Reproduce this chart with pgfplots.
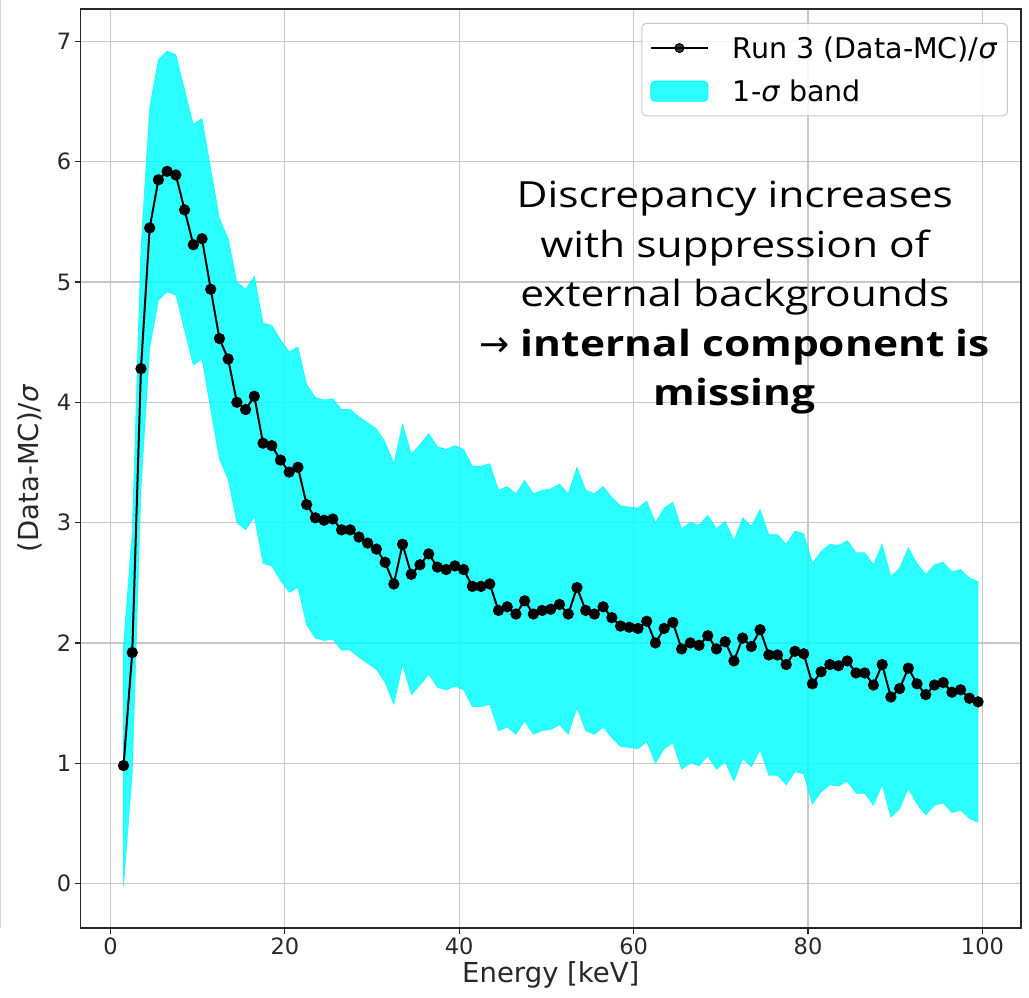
\documentclass[border=0pt]{standalone}
\usepackage{fontspec}
\setmainfont{DejaVu Sans}
\newfontfamily\annot[FakeStretch=1.18]{Open Sans}
\newfontfamily\arrowfont{DejaVu Sans}
\usepackage{pgfplots}
\pgfplotsset{compat=1.18}
\usepgfplotslibrary{fillbetween}
\usepackage{pgfplotstable}

\definecolor{gridc}{RGB}{200,200,200}
\definecolor{spine}{RGB}{40,40,40}
\definecolor{aqua}{RGB}{0,255,255}

\pgfplotstableread{
x y lo hi
1.5 0.98 -0.02 1.98
2.5 1.92 0.92 2.92
3.5 4.28 3.28 5.28
4.5 5.45 4.45 6.45
5.5 5.85 4.85 6.85
6.5 5.92 4.92 6.92
7.5 5.89 4.89 6.89
8.5 5.60 4.60 6.60
9.5 5.31 4.31 6.31
10.5 5.36 4.36 6.36
11.5 4.94 3.94 5.94
12.5 4.53 3.53 5.53
13.5 4.36 3.36 5.36
14.5 4.00 3.00 5.00
15.5 3.94 2.94 4.94
16.5 4.05 3.05 5.05
17.5 3.66 2.66 4.66
18.5 3.64 2.64 4.64
19.5 3.52 2.52 4.52
20.5 3.42 2.42 4.42
21.5 3.46 2.46 4.46
22.5 3.15 2.15 4.15
23.5 3.04 2.04 4.04
24.5 3.02 2.02 4.02
25.5 3.03 2.03 4.03
26.5 2.94 1.94 3.94
27.5 2.94 1.94 3.94
28.5 2.88 1.88 3.88
29.5 2.83 1.83 3.83
30.5 2.78 1.78 3.78
31.5 2.67 1.67 3.67
32.5 2.49 1.49 3.49
33.5 2.82 1.82 3.82
34.5 2.57 1.57 3.57
35.5 2.65 1.65 3.65
36.5 2.74 1.74 3.74
37.5 2.63 1.63 3.63
38.5 2.61 1.61 3.61
39.5 2.64 1.64 3.64
40.5 2.61 1.61 3.61
41.5 2.47 1.47 3.47
42.5 2.47 1.47 3.47
43.5 2.49 1.49 3.49
44.5 2.27 1.27 3.27
45.5 2.30 1.30 3.30
46.5 2.24 1.24 3.24
47.5 2.35 1.35 3.35
48.5 2.24 1.24 3.24
49.5 2.27 1.27 3.27
50.5 2.28 1.28 3.28
51.5 2.32 1.32 3.32
52.5 2.24 1.24 3.24
53.5 2.46 1.46 3.46
54.5 2.27 1.27 3.27
55.5 2.24 1.24 3.24
56.5 2.30 1.30 3.30
57.5 2.21 1.21 3.21
58.5 2.14 1.14 3.14
59.5 2.13 1.13 3.13
60.5 2.12 1.12 3.12
61.5 2.18 1.18 3.18
62.5 2.00 1.00 3.00
63.5 2.12 1.12 3.12
64.5 2.17 1.17 3.17
65.5 1.95 0.95 2.95
66.5 2.00 1.00 3.00
67.5 1.98 0.98 2.98
68.5 2.06 1.06 3.06
69.5 1.95 0.95 2.95
70.5 2.01 1.01 3.01
71.5 1.85 0.85 2.85
72.5 2.04 1.04 3.04
73.5 1.97 0.97 2.97
74.5 2.11 1.11 3.11
75.5 1.90 0.90 2.90
76.5 1.90 0.90 2.90
77.5 1.82 0.82 2.82
78.5 1.93 0.93 2.93
79.5 1.91 0.91 2.91
80.5 1.66 0.66 2.66
81.5 1.76 0.76 2.76
82.5 1.82 0.82 2.82
83.5 1.81 0.81 2.81
84.5 1.85 0.85 2.85
85.5 1.75 0.75 2.75
86.5 1.75 0.75 2.75
87.5 1.65 0.65 2.65
88.5 1.82 0.82 2.82
89.5 1.55 0.55 2.55
90.5 1.62 0.62 2.62
91.5 1.79 0.79 2.79
92.5 1.66 0.66 2.66
93.5 1.57 0.57 2.57
94.5 1.65 0.65 2.65
95.5 1.67 0.67 2.67
96.5 1.59 0.59 2.59
97.5 1.61 0.61 2.61
98.5 1.54 0.54 2.54
99.5 1.51 0.51 2.51
}\data

\begin{document}
\begin{tikzpicture}
\begin{axis}[
  at={(0pt,0pt)}, anchor=south west,
  scale only axis, width=940pt, height=919pt,
  xmin=-3.4, xmax=104.4, ymin=-0.37, ymax=7.27,
  xtick={0,20,40,60,80,100}, ytick={0,1,2,3,4,5,6,7},
  grid=major, major grid style={draw=gridc, line width=1.2pt},
  axis line style={line width=1.4pt, spine},
  tick style={line width=1.2pt, spine},
  major tick length=6pt,
  tick align=outside, xtick pos=bottom, ytick pos=left,
  ticklabel style={font=\fontsize{22.5}{27}\selectfont, text=spine},
  /pgf/number format/assume math mode=true,
  xlabel={Energy [keV]}, ylabel={(Data-MC)/\textit{σ}},
  label style={font=\fontsize{27.5}{33}\selectfont, text=spine},
  xlabel style={at={(axis description cs:0.5,0)}, anchor=center, yshift=-47pt},
  ylabel style={at={(axis description cs:-0.054,0.5)}, anchor=center},
  legend style={at={(1,1)}, anchor=north east, xshift=-13pt, yshift=-14pt,
    draw=gridc, line width=1pt, rounded corners=4pt, fill=white, fill opacity=0.8, text opacity=1,
    font=\fontsize{28.5}{33}\selectfont, inner xsep=8pt, inner ysep=11pt, row sep=16pt,
    /tikz/every odd column/.append style={column sep=22pt}},
  legend cell align=left,
]
\addplot[name path=up, draw=none, forget plot] table[x=x,y=hi]{\data};
\addplot[name path=lo, draw=none, forget plot] table[x=x,y=lo]{\data};
\addplot[fill=aqua, draw=aqua, fill opacity=0.83, draw opacity=0.83, line width=0.6pt, forget plot] fill between[of=up and lo];
\addplot[black, line width=2pt, mark=*, mark size=4.6pt, forget plot] table[x=x,y=y]{\data};

\addlegendimage{legend image code/.code={
  \draw[black, line width=2pt] (0pt,0pt) -- (57pt,0pt);
  \fill[black] (28.5pt,0pt) circle (4.5pt);}}
\addlegendentry{Run 3 (Data-MC)/\textit{σ}}
\addlegendimage{legend image code/.code={
  \fill[aqua, fill opacity=0.83] (0pt,-10pt) rectangle (57pt,10pt);}}
\addlegendentry{1-\textit{σ} band}

\node[font=\annot\fontsize{36}{49.5}\selectfont, align=center, text=black] at (axis cs:71.6,4.87)
  {Discrepancy increases\\with suppression of\\external backgrounds\\{\arrowfont →} \textbf{internal component is}\\\textbf{missing}};
\end{axis}
\draw[gray!30, line width=1pt] (-79.8pt,928pt) -- (-79.8pt,0pt);
\pgfresetboundingbox
\useasboundingbox (-80.8pt,-70pt) rectangle (948.2pt,928pt);
\end{tikzpicture}
\end{document}
